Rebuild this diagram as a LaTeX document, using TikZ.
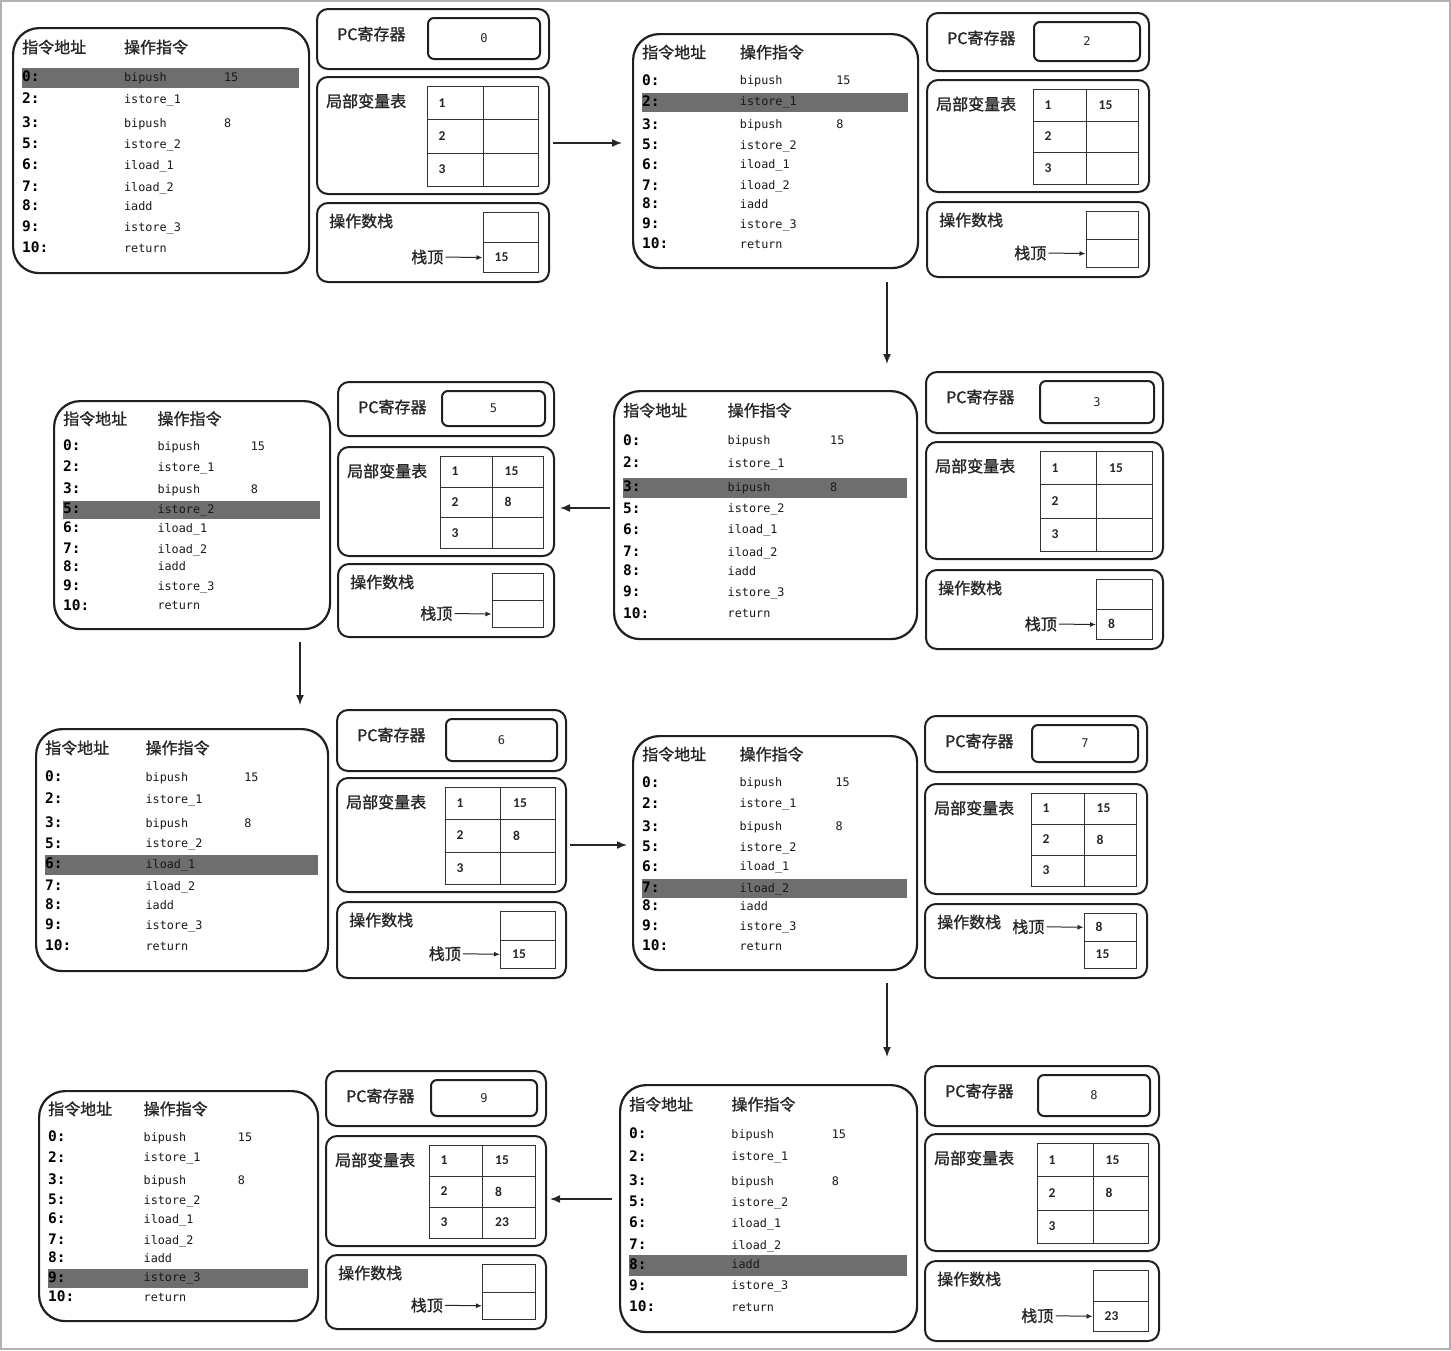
\documentclass[tikz,border=0pt]{standalone}
\usepackage{fontspec}
\usetikzlibrary{arrows.meta}
\newfontfamily\cjk{Noto Sans CJK SC}[FakeBold=1.2]
\newfontfamily\mono{DejaVu Sans Mono}
\newfontfamily\numf{Carlito}
\tikzset{
 ibox/.style={draw=black!88, line width=2.2pt, rounded corners=26pt, inner sep=0pt},
 obox/.style={draw=black!88, line width=2pt, rounded corners=11pt, inner sep=0pt},
 vbox/.style={draw=black!88, line width=2pt, rounded corners=6pt, inner sep=0pt},
 cell/.style={draw=black!80, line width=1.1pt, inner sep=0pt},
 cjkl/.style={font=\cjk\fontsize{16}{16}\selectfont, inner sep=0pt, anchor=west, text=black!85},
 addr/.style={font=\mono\bfseries\fontsize{14.5}{15}\selectfont, inner sep=0pt, anchor=west, text height=10pt, text depth=3pt},
 ins/.style={font=\mono\fontsize{11.8}{12}\selectfont, inner sep=0pt, anchor=west, text height=9pt, text depth=2.5pt, text=black!90},
 num/.style={font=\numf\bfseries\fontsize{13.5}{14}\selectfont, inner sep=0pt, text=black!85},
 pcv/.style={font=\mono\fontsize{12}{12}\selectfont, inner sep=0pt, text=black!85},
 hl/.style={fill=black!57, draw=none},
 flow/.style={draw=black!85, line width=1.5pt, -{Latex[length=10pt,width=8pt]}},
 ptr/.style={draw=black!85, line width=1pt, shorten <=2pt, -{Latex[length=6pt,width=5pt]}},
}
% generic box: style, name, x1, y1, x2, y2 (pixel coordinates, y downwards)
\newcommand\mkbox[6]{%
 \pgfmathsetmacro\bw{(#5)-(#3)}\pgfmathsetmacro\bh{(#6)-(#4)}%
 \node[#1, minimum width=\bw pt, minimum height=\bh pt, anchor=north west] (#2) at ({#3},{#4}) {};}
% instruction box: name, x1, y1, x2, y2, highlighted row
\newcommand\instr[6]{%
 \mkbox{ibox}{#1}{#2}{#3}{#4}{#5}%
 \pgfmathsetmacro\iw{#4-#2}\pgfmathsetmacro\ih{#5-#3}%
 \pgfmathsetmacro\xa{#2+10}\pgfmathsetmacro\xb{#2+0.378*\iw}\pgfmathsetmacro\xc{#2+0.716*\iw}%
 \pgfmathsetmacro\hy{#3+0.082*\ih}%
 \node[cjkl] (#1-h1) at (\xa,\hy) {指令地址};
 \node[cjkl] (#1-h2) at (\xb,\hy) {操作指令};
 \foreach \adr/\ins/\opd/\fr [count=\k from 0] in {0:/bipush/15/0.208, 2:/istore\_1//0.298, 3:/bipush/8/0.396, 5:/istore\_2//0.482, 6:/iload\_1//0.567, 7:/iload\_2//0.657, 8:/iadd//0.735, 9:/istore\_3//0.820, 10:/return//0.906}{%
   \pgfmathsetmacro\ry{#3+\fr*\ih}%
   \pgfmathsetmacro\ryt{\ry-0.041*\ih}\pgfmathsetmacro\ryb{\ry+0.041*\ih}%
   \ifnum\k=#6 \fill[hl] (\xa,\ryt) rectangle ({#4-9},\ryb);\fi
   \node[addr] (#1-a\k) at (\xa,\ry) {\adr};
   \node[ins] (#1-n\k) at (\xb,\ry) {\ins};
   \ifx\opd\empty\else\node[ins] (#1-o\k) at (\xc,\ry) {\opd};\fi
 }%
}
% PC register: name, x1, y1, x2, y2, value box left, value
\newcommand\pcreg[7]{%
 \mkbox{obox}{#1}{#2}{#3}{#4}{#5}%
 \node[cjkl] (#1-l) at ({#2+21},{#3+26}) {PC寄存器};
 \mkbox{vbox}{#1-v}{#6}{#3+9}{#4-9}{#5-10}%
 \node[pcv] (#1-t) at (#1-v.center) {#7};
}
% local variable table: name, x1, y1, x2, y2, table left, v1, v2, v3
\newcommand\lvt[9]{%
 \mkbox{obox}{#1}{#2}{#3}{#4}{#5}%
 \node[cjkl] (#1-l) at ({#2+10},{#3+25}) {局部变量表};
 \pgfmathsetmacro\tx{#6}\pgfmathsetmacro\txr{#4-10}\pgfmathsetmacro\tyt{#3+10}\pgfmathsetmacro\tyb{#5-7}%
 \pgfmathsetmacro\tsx{(\tx+\txr)/2}\pgfmathsetmacro\tch{(\tyb-\tyt)/3}%
 \xdef\splitx{\tsx}%
 \foreach \r/\v in {1/#7,2/#8,3/#9}{%
   \pgfmathsetmacro\ra{\tyt+(\r-1)*\tch}\pgfmathsetmacro\rb{\tyt+\r*\tch}\pgfmathsetmacro\rc{\tyt+(\r-0.5)*\tch}%
   \mkbox{cell}{#1-k\r}{\tx}{\ra}{\tsx}{\rb}%
   \mkbox{cell}{#1-v\r}{\tsx}{\ra}{\txr}{\rb}%
   \node[num] (#1-kt\r) at ({\tx+15},\rc) {\r};
   \ifx\v\empty\else\node[num, anchor=west] (#1-vt\r) at ({\tsx+13},\rc) {\v};\fi
 }%
}
% operand stack: name, x1, y1, x2, y2, top value, bottom value, pointer cell (1 top, 2 bottom)
\newcommand\opst[8]{%
 \mkbox{obox}{#1}{#2}{#3}{#4}{#5}%
 \node[cjkl] (#1-l) at ({#2+13},{#3+19}) {操作数栈};
 \pgfmathsetmacro\cxr{#4-10}\pgfmathsetmacro\cyt{#3+10}\pgfmathsetmacro\cyb{#5-9}\pgfmathsetmacro\cym{(\cyt+\cyb)/2}%
 \pgfmathsetmacro\cya{(\cyt+\cym)/2}\pgfmathsetmacro\cyc{(\cym+\cyb)/2}%
 \mkbox{cell}{#1-c1}{\splitx}{\cyt}{\cxr}{\cym}%
 \mkbox{cell}{#1-c2}{\splitx}{\cym}{\cxr}{\cyb}%
 \if\relax\detokenize{#6}\relax\else\node[num, anchor=west] (#1-t1) at ({\splitx+12},\cya) {#6};\fi
 \if\relax\detokenize{#7}\relax\else\node[num, anchor=west] (#1-t2) at ({\splitx+12},\cyc) {#7};\fi
 \ifnum#8=1 \pgfmathsetmacro\py{\cya}\else\pgfmathsetmacro\py{\cyc}\fi
 \node[cjkl, anchor=east] (#1-p) at ({\splitx-39},\py) {栈顶};
 \draw[ptr] (#1-p.east) -- (#1-c#8.west);
}
\begin{document}
\begin{tikzpicture}[x=1pt,y=-1pt]
\useasboundingbox (0,0) rectangle (1451,1350);
\draw[black!30, line width=1.5pt] (1,1) rectangle (1450,1349);
% panel 1
\instr{i1}{12}{27}{308}{272}{0}
\pcreg{pc1}{316}{8}{548}{68}{427}{0}
\lvt{lv1}{316}{76}{548}{193}{427}{}{}{}
\opst{os1}{316}{202}{548}{281}{}{15}{2}
% panel 2
\instr{i2}{632}{33}{917}{267}{1}
\pcreg{pc2}{926}{12}{1148}{70}{1033}{2}
\lvt{lv2}{926}{79}{1148}{191}{1033}{15}{}{}
\opst{os2}{926}{201}{1148}{276}{}{}{2}
% panel 3
\instr{i3}{613}{390}{916}{638}{2}
\pcreg{pc3}{925}{371}{1162}{432}{1039}{3}
\lvt{lv3}{925}{441}{1162}{558}{1040}{15}{}{}
\opst{os3}{925}{569}{1162}{648}{}{8}{2}
% panel 4
\instr{i4}{53}{400}{329}{628}{3}
\pcreg{pc4}{337}{381}{553}{435}{441}{5}
\lvt{lv4}{337}{446}{553}{555}{440}{15}{8}{}
\opst{os4}{337}{563}{553}{636}{}{}{2}
% panel 5
\instr{i5}{35}{728}{327}{970}{4}
\pcreg{pc5}{336}{709}{565}{770}{445}{6}
\lvt{lv5}{336}{777}{565}{891}{445}{15}{8}{}
\opst{os5}{336}{901}{565}{977}{}{15}{2}
% panel 6
\instr{i6}{632}{735}{916}{969}{5}
\pcreg{pc6}{924}{715}{1146}{771}{1031}{7}
\lvt{lv6}{924}{783}{1146}{893}{1031}{15}{8}{}
\opst{os6}{924}{903}{1146}{977}{8}{15}{1}
% panel 7
\instr{i7}{619}{1084}{916}{1331}{6}
\pcreg{pc7}{924}{1065}{1158}{1125}{1037}{8}
\lvt{lv7}{924}{1133}{1158}{1250}{1037}{15}{8}{}
\opst{os7}{924}{1260}{1158}{1340}{}{23}{2}
% panel 8
\instr{i8}{38}{1090}{317}{1320}{7}
\pcreg{pc8}{325}{1070}{545}{1125}{430}{9}
\lvt{lv8}{325}{1135}{545}{1245}{429}{15}{8}{23}
\opst{os8}{325}{1254}{545}{1328}{}{}{2}
% flow arrows
\coordinate (f1s) at (553,143); \coordinate (f1e) at (622,143);
\coordinate (f2s) at (887,282); \coordinate (f2e) at (887,364);
\coordinate (f3s) at (610,508); \coordinate (f3e) at (560,508);
\coordinate (f4s) at (300,642); \coordinate (f4e) at (300,705);
\coordinate (f5s) at (570,845); \coordinate (f5e) at (627,845);
\coordinate (f6s) at (887,983); \coordinate (f6e) at (887,1057);
\coordinate (f7s) at (612,1199); \coordinate (f7e) at (550,1199);
\foreach \n in {1,...,7}{\draw[flow] (f\n s) -- (f\n e);}
\end{tikzpicture}
\end{document}
